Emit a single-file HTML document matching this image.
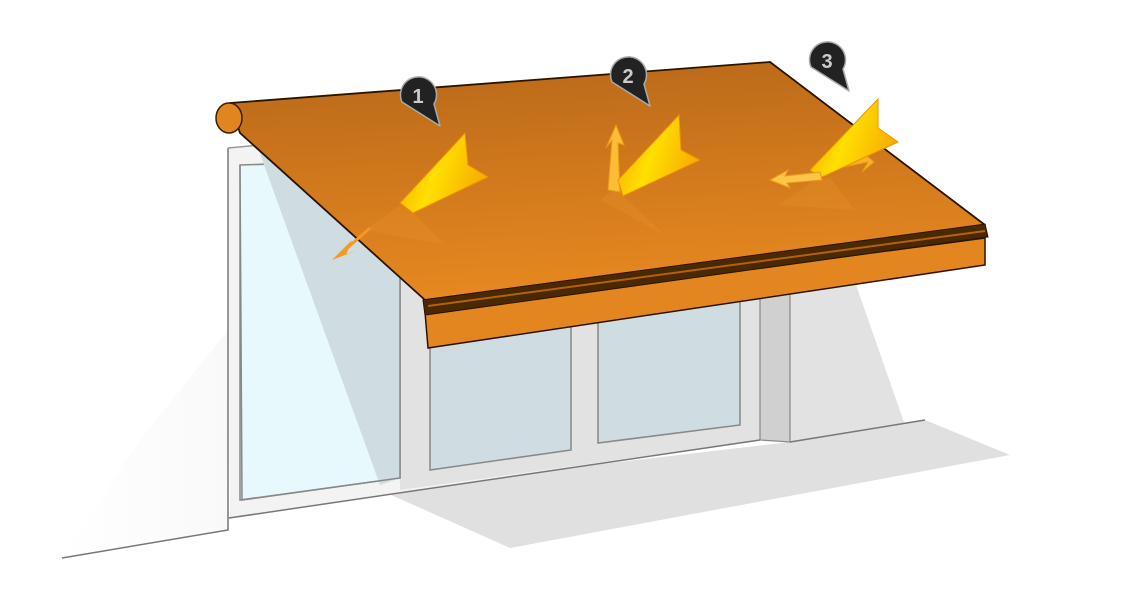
<!DOCTYPE html>
<html><head><meta charset="utf-8"><style>
html,body{margin:0;padding:0;background:#fff;}
svg{display:block;}
text{font-family:"Liberation Sans",sans-serif;font-weight:bold;}
</style></head><body>
<svg width="1140" height="600" viewBox="0 0 1140 600" xmlns="http://www.w3.org/2000/svg">
<defs>
<linearGradient id="roof" x1="0" y1="0" x2="0.15" y2="1">
<stop offset="0" stop-color="#b8681a"/><stop offset="1" stop-color="#e6881f"/>
</linearGradient>
<linearGradient id="yel" x1="0" y1="0" x2="1" y2="0.3">
<stop offset="0" stop-color="#f6a800"/><stop offset="0.5" stop-color="#ffe000"/><stop offset="1" stop-color="#f8b000"/>
</linearGradient>
<linearGradient id="wallfade" x1="0" y1="0" x2="1" y2="0">
<stop offset="0" stop-color="#fff"/><stop offset="1" stop-color="#f0f0f0"/>
</linearGradient>
</defs>
<polygon points="60,560 228,530 228,330 140,440" fill="url(#wallfade)" opacity="0.4"/>
<polygon points="380,490 510,548 1010,455 925,420 790,442" fill="#e0e0e0"/>
<polygon points="790,290 855,282 905,425 790,442" fill="#e2e2e2"/>
<polygon points="228,148 400,130 760,295 760,440 230,518" fill="#f3f3f3"/>
<polygon points="400,270 760,240 760,440 400,490" fill="#e2e2e2"/>
<polygon points="240,165 400,160 400,478 242,500" fill="#e8f9fd" stroke="#888" stroke-width="1.5"/>
<polygon points="255,140 400,150 400,478 380,485" fill="#cfdde2"/>
<polyline points="240,165 240,500 400,478 400,160" fill="none" stroke="#888" stroke-width="1.5"/>
<polygon points="430,320 571,310 571,450 430,470" fill="#cfdde2" stroke="#888" stroke-width="1.5"/>
<polygon points="598,305 740,290 740,425 598,443" fill="#cfdde2" stroke="#888" stroke-width="1.5"/>
<polygon points="760,290 790,288 790,442 760,440" fill="#d0d0d0" stroke="#888" stroke-width="1.2"/>
<polyline points="228,148 228,530 62,558" fill="none" stroke="#777" stroke-width="1.5"/>
<line x1="229" y1="518" x2="760" y2="440" stroke="#777" stroke-width="1.5"/>
<line x1="790" y1="442" x2="925" y2="420" stroke="#777" stroke-width="1.5"/>
<line x1="228" y1="148" x2="260" y2="145" stroke="#999" stroke-width="1.5"/>
<polygon points="230,103 770,62 985,225 425,300 240,133" fill="url(#roof)" stroke="#2a1400" stroke-width="1.8" stroke-linejoin="round"/>
<ellipse cx="229" cy="118" rx="13" ry="15" fill="#e0851f" stroke="#3a1e00" stroke-width="1.5"/>
<polygon points="425,312 985,238 985,265 428,348" fill="#e4861f" stroke="#2a1400" stroke-width="1.5"/>
<polygon points="423,300 985,224 988,237 425,315" fill="#4a2800" stroke="#2a1400" stroke-width="1"/>
<line x1="428" y1="306" x2="985" y2="231" stroke="#b0620f" stroke-width="2"/>
<line x1="370" y1="228" x2="345" y2="250" stroke="#f39a20" stroke-width="3"/>
<polygon points="332,260 352,240 346,255 358,250" fill="#f39a20"/>
<polygon points="400,205 413,213 445,245 365,230" fill="#e9902a" opacity="0.35"/>
<polygon points="620,185 623,196 665,235 600,200" fill="#e9902a" opacity="0.35"/>
<polygon points="815,180 830,178 855,210 778,205" fill="#e9902a" opacity="0.35"/>
<polygon points="400,203 465,133 468,165 488,177 413,213" fill="url(#yel)" stroke="#f09000" stroke-width="1"/>
<polygon points="608,190 612,140 606,148 616,125 624,145 618,143 620,192" fill="#fcbc38" stroke="#e89a10" stroke-width="1"/>
<polygon points="618,180 679,115 681,150 700,160 623,196" fill="url(#yel)" stroke="#f09000" stroke-width="1"/>
<polygon points="830,170 868,162 862,172 874,162 866,155 835,160" fill="#f8b030" stroke="#e89a10" stroke-width="1"/>
<polygon points="810,170 878,99 878,128 898,142 820,178" fill="url(#yel)" stroke="#f09000" stroke-width="1"/>
<polygon points="820,172 785,176 788,170 770,180 790,188 787,183 822,180" fill="#fcc448" stroke="#e89a10" stroke-width="1"/>
<path d="M402,102 A18,18 0 1 1 434,104 L440,126 Z" fill="#222" stroke="#aaa" stroke-width="1.5" stroke-linejoin="round"/>
<text x="418" y="103" font-size="20" fill="#ccc" text-anchor="middle">1</text>
<path d="M612,82 A18,18 0 1 1 644,84 L650,106 Z" fill="#222" stroke="#aaa" stroke-width="1.5" stroke-linejoin="round"/>
<text x="628" y="83" font-size="20" fill="#ccc" text-anchor="middle">2</text>
<path d="M811,67 A18,18 0 1 1 843,69 L849,91 Z" fill="#222" stroke="#aaa" stroke-width="1.5" stroke-linejoin="round"/>
<text x="827" y="68" font-size="20" fill="#ccc" text-anchor="middle">3</text>
</svg>
</body></html>
